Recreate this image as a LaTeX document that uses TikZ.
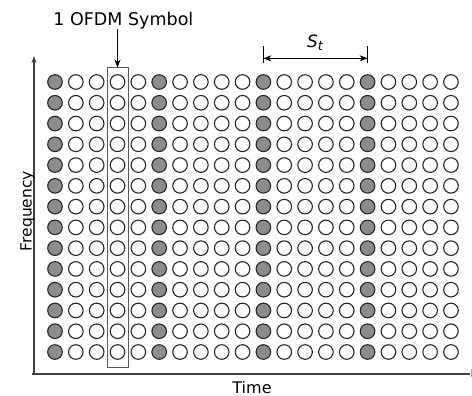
\documentclass[tikz,border=0pt]{standalone}
\usepackage{fontspec}
\setmainfont{DejaVu Sans}
\usetikzlibrary{arrows.meta}
\begin{document}
\begin{tikzpicture}[x=1pt,y=-1pt,
  dot/.style={circle,draw=black!85,line width=1.1pt,minimum size=14.6pt,inner sep=0pt},
  pilot/.style={dot,fill=black!45},
  datadot/.style={dot,fill=white},
  axisline/.style={draw=black!75,line width=1.2pt},
  lbl/.style={inner sep=0pt},
  arr/.style={-{Stealth[length=8pt,width=6pt]},line width=0.9pt},
  dimarr/.style={{Stealth[length=8pt,width=6pt]}-{Stealth[length=8pt,width=6pt]},line width=0.9pt},
  symbox/.style={draw=black!65,line width=1pt,minimum width=21pt,minimum height=299pt,inner sep=0pt}
]
\useasboundingbox (0,0) rectangle (472,396);
% axes
\coordinate (yaxB) at (34,374);
\coordinate (yaxT) at (34,56);
\coordinate (xaxL) at (32,374);
\coordinate (xaxR) at (470,374);
\draw[axisline] (xaxL) -- (xaxR);
\draw[axisline,-{Stealth[length=7pt,width=5pt]}] (yaxB) -- (yaxT);
\coordinate (tk1) at (471.5,369);
\coordinate (tk2) at (471.5,377);
\draw[black!35,line width=0.6pt] (tk1) -- (tk2);
% symbol box
\node[symbox] (box) at (117.5,217.5) {};
% grid of subcarriers
\foreach \i in {0,...,19}{
  \foreach \j in {0,...,13}{
    \pgfmathtruncatemacro{\m}{mod(\i,5)}
    \ifnum\m=0
      \node[pilot] (c-\i-\j) at ({55+20.84*\i},{82+20.77*\j}) {};
    \else
      \node[datadot] (c-\i-\j) at ({55+20.84*\i},{82+20.77*\j}) {};
    \fi
  }
}
% labels
\node[lbl,anchor=base,font=\fontsize{17.5}{20}\selectfont] (ofdm) at (123.4,26) {1 OFDM Symbol};
\coordinate (arrstart) at (117.5,29.5);
\draw[arr] (arrstart) -- (box.north);
\node[lbl,anchor=base,rotate=90,font=\fontsize{15.5}{18}\selectfont] (freq) at (31.5,211) {Frequency};
\node[lbl,anchor=base,font=\fontsize{16}{19}\selectfont] (time) at (252,393.5) {Time};
% S_t dimension
\coordinate (tA) at (263.4,46.5);
\coordinate (bA) at (263.4,63.5);
\coordinate (tB) at (367.6,46.5);
\coordinate (bB) at (367.6,63.5);
\coordinate (mA) at (263.4,58.3);
\coordinate (mB) at (367.6,58.3);
\draw[line width=0.9pt] (tA) -- (bA);
\draw[line width=0.9pt] (tB) -- (bB);
\draw[dimarr] (mA) -- (mB);
\node[anchor=base,inner sep=0pt] (st) at (315,48) {\fontsize{17}{19}\selectfont\itshape S\raisebox{-2.5pt}{\fontsize{13}{14}\selectfont t}};
\end{tikzpicture}
\end{document}
